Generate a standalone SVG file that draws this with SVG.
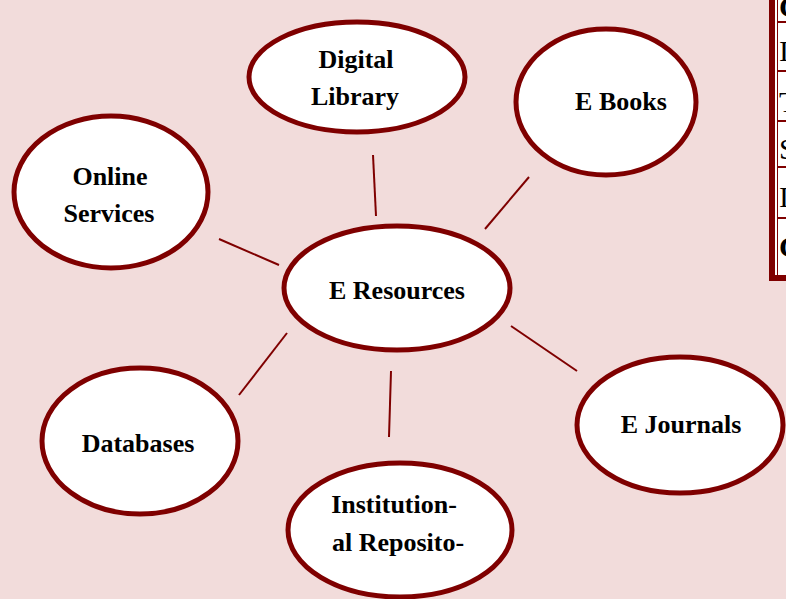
<svg xmlns="http://www.w3.org/2000/svg" width="786" height="599" viewBox="0 0 786 599">
<style>
.node ellipse{fill:#ffffff;stroke:#7f0000;stroke-width:5}
.node text{font-family:"Liberation Serif","Times New Roman",serif;font-weight:bold;font-size:26px;fill:#000;text-anchor:middle}
#connectors line{stroke:#7f0000;stroke-width:2}
.cell{font-family:"Liberation Serif","Times New Roman",serif;font-size:30px;fill:#000}
</style>
<rect x="0" y="0" width="786" height="599" fill="#f2dcdb"/>
<g id="table">
<rect x="772" y="-10" width="30" height="288" fill="#ffffff" stroke="#7f0000" stroke-width="6"/>
<rect x="777.5" y="-10" width="20" height="285.5" fill="none" stroke="#7f0000" stroke-width="1"/>
<line x1="778" y1="22" x2="786" y2="22" stroke="#7f0000" stroke-width="2"/>
<line x1="778" y1="71" x2="786" y2="71" stroke="#7f0000" stroke-width="2"/>
<line x1="778" y1="121" x2="786" y2="121" stroke="#7f0000" stroke-width="2"/>
<line x1="778" y1="167" x2="786" y2="167" stroke="#7f0000" stroke-width="2"/>
<line x1="778" y1="218" x2="786" y2="218" stroke="#7f0000" stroke-width="2"/>
<text class="cell" x="779" y="17" font-weight="bold">C</text>
<text class="cell" x="779" y="61">I</text>
<text class="cell" x="779" y="112">T</text>
<text class="cell" x="779" y="159">S</text>
<text class="cell" x="779" y="207">I</text>
<text class="cell" x="779" y="257" font-weight="bold">C</text>
</g>
<g id="connectors">
<line x1="373" y1="155" x2="376" y2="216"/>
<line x1="529" y1="177" x2="485" y2="229"/>
<line x1="219" y1="239" x2="279" y2="265"/>
<line x1="287" y1="333" x2="239" y2="395"/>
<line x1="391" y1="371" x2="389" y2="437"/>
<line x1="511" y1="326" x2="577" y2="371"/>
</g>
<g id="digital-library" class="node">
<ellipse cx="357" cy="77" rx="108" ry="55"/>
<text x="356" y="68">Digital</text>
<text x="355" y="105">Library</text>
</g>
<g id="e-books" class="node">
<ellipse cx="606" cy="102" rx="90" ry="73"/>
<text x="621" y="110">E Books</text>
</g>
<g id="online-services" class="node">
<ellipse cx="111" cy="192" rx="97" ry="76"/>
<text x="110" y="185">Online</text>
<text x="109" y="222">Services</text>
</g>
<g id="e-resources" class="node">
<ellipse cx="397" cy="288" rx="113" ry="62"/>
<text x="397" y="299">E Resources</text>
</g>
<g id="databases" class="node">
<ellipse cx="140" cy="441" rx="98" ry="73"/>
<text x="138" y="452">Databases</text>
</g>
<g id="e-journals" class="node">
<ellipse cx="680" cy="425" rx="103" ry="68"/>
<text x="681" y="433">E Journals</text>
</g>
<g id="institutional-repository" class="node">
<ellipse cx="400" cy="530" rx="112" ry="67"/>
<text x="394" y="513">Institution-</text>
<text x="398" y="551">al Reposito-</text>
</g>
</svg>
